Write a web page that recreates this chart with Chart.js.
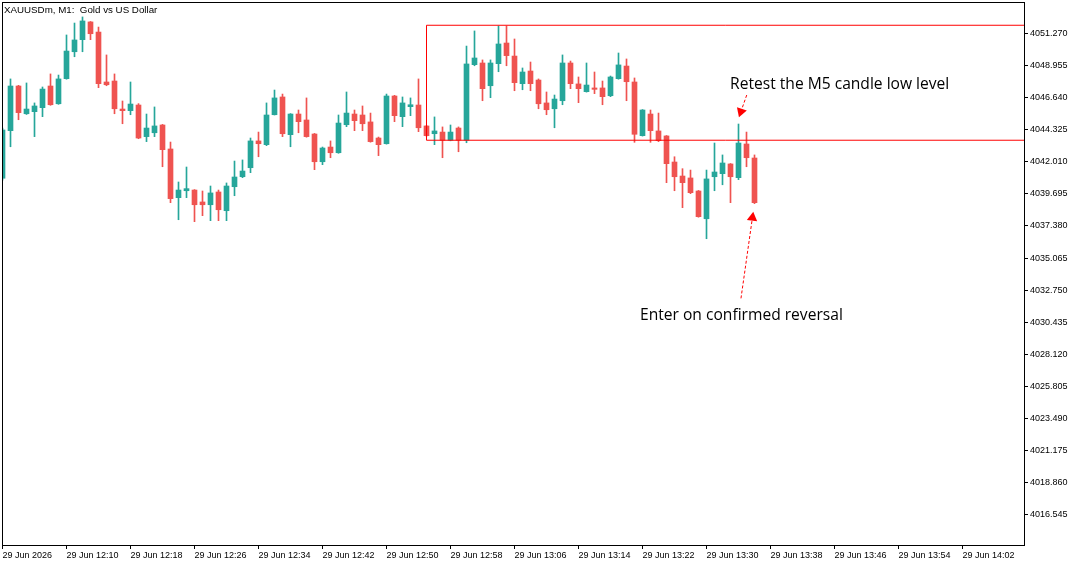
<!DOCTYPE html>
<html>
<head>
<meta charset="utf-8">
<script src="https://cdn.jsdelivr.net/npm/chart.js@4.4.1/dist/chart.umd.min.js"></script>
<style>
  html, body { margin: 0; padding: 0; background: #fff; }
  #wrap { width: 1082px; height: 566px; }
</style>
</head>
<body>
<div id="wrap"><canvas id="chart" width="1082" height="566"></canvas></div>
<script>
// XAUUSDm M1 candles, 12:02 .. 13:36 (one per minute)
const opens = [4040.82,4044.25,4047.47,4045.47,4045.62,4045.91,4047.47,4046.19,4048.00,4049.94,
  4050.81,4052.09,4051.36,4047.76,4047.83,4045.81,4045.69,4046.10,4043.82,4044.10,
  4044.66,4042.93,4039.42,4039.92,4039.97,4039.11,4038.91,4039.83,4038.48,4040.21,
  4040.93,4041.58,4043.51,4043.24,4045.40,4046.68,4043.96,4045.45,4045.02,4044.01,
  4042.01,4043.07,4042.66,4044.68,4045.45,4045.38,4044.88,4043.72,4043.31,4046.75,
  4045.26,4045.98,4046.10,4044.59,4044.03,4044.15,4043.56,4044.44,4043.56,4049.01,
  4049.13,4047.49,4049.08,4050.57,4049.63,4047.64,4048.55,4047.90,4046.25,4045.83,
  4046.41,4049.13,4047.62,4047.06,4047.33,4047.33,4046.77,4048.00,4048.91,4047.76,
  4043.89,4045.45,4044.23,4043.87,4041.99,4040.98,4040.84,4039.90,4037.90,4040.93,
  4041.15,4041.85,4040.86,4043.29,4042.28];
const highs = [4044.44,4047.98,4047.52,4047.69,4046.25,4047.40,4048.34,4048.26,4051.15,4052.01,
  4052.45,4052.12,4051.72,4049.71,4048.34,4046.39,4047.76,4046.20,4045.45,4045.96,
  4044.70,4043.43,4040.55,4041.63,4040.00,4039.90,4040.26,4039.97,4040.48,4042.06,
  4042.14,4043.72,4044.15,4046.25,4047.18,4046.89,4045.48,4045.74,4046.61,4044.05,
  4043.07,4043.51,4045.38,4047.04,4045.74,4046.03,4045.52,4043.79,4046.89,4046.80,
  4046.68,4046.61,4047.98,4044.62,4045.24,4044.52,4044.66,4044.52,4050.35,4051.44,
  4049.35,4049.35,4051.80,4051.80,4050.86,4048.77,4049.20,4047.98,4047.04,4046.82,
  4049.71,4049.27,4048.12,4049.13,4048.48,4047.83,4048.19,4049.85,4049.42,4048.05,
  4045.77,4045.74,4045.52,4043.90,4042.37,4041.51,4041.41,4039.94,4041.41,4043.36,
  4042.50,4041.88,4044.73,4044.15,4042.50];
const lows = [4040.69,4043.09,4045.04,4045.42,4043.82,4045.26,4046.08,4046.15,4047.96,4049.58,
  4049.94,4050.81,4047.35,4047.49,4045.47,4044.75,4045.40,4043.67,4043.46,4043.82,
  4041.65,4039.06,4037.83,4039.42,4037.69,4038.12,4037.76,4037.76,4037.76,4039.56,
  4040.86,4041.22,4042.37,4043.17,4045.38,4043.82,4043.09,4044.10,4043.78,4041.44,
  4041.80,4042.30,4042.62,4044.54,4044.25,4044.25,4043.42,4042.45,4043.28,4044.90,
  4044.54,4045.33,4044.18,4043.85,4043.24,4042.30,4043.52,4042.73,4043.38,4048.93,
  4046.41,4046.63,4048.50,4048.93,4047.13,4047.20,4047.13,4045.83,4045.40,4044.46,
  4046.12,4047.28,4046.27,4047.03,4046.92,4046.12,4046.70,4047.96,4046.41,4043.41,
  4043.86,4043.41,4043.46,4040.50,4039.92,4038.70,4039.71,4038.01,4036.46,4039.92,
  4040.35,4039.06,4040.72,4041.65,4038.99];
const closes = [4044.30,4047.47,4045.55,4045.81,4046.03,4047.25,4046.12,4047.98,4049.99,4050.79,
  4052.16,4051.24,4047.64,4047.56,4045.83,4045.69,4046.17,4043.72,4044.44,4044.59,
  4042.88,4039.35,4039.97,4040.07,4038.91,4038.91,4039.76,4038.55,4040.26,4040.91,
  4041.34,4043.51,4043.31,4045.38,4046.61,4044.03,4045.45,4044.90,4043.82,4042.01,
  4043.00,4042.66,4044.80,4045.52,4044.97,4044.75,4043.46,4043.24,4046.75,4045.33,
  4046.25,4046.12,4044.46,4043.89,4044.23,4043.56,4044.15,4043.56,4049.06,4049.49,
  4047.28,4049.13,4050.50,4049.66,4047.71,4048.48,4047.64,4046.19,4045.76,4046.53,
  4049.13,4047.64,4047.28,4047.54,4047.23,4046.70,4048.12,4048.99,4047.78,4043.99,
  4045.74,4044.25,4043.53,4041.87,4040.93,4040.50,4039.78,4038.05,4040.77,4041.27,
  4041.92,4040.93,4043.36,4042.30,4039.06];

// axis labels
const xTickLabels = ['29 Jun 2026','29 Jun 12:10','29 Jun 12:18','29 Jun 12:26','29 Jun 12:34',
  '29 Jun 12:42','29 Jun 12:50','29 Jun 12:58','29 Jun 13:06','29 Jun 13:14','29 Jun 13:22',
  '29 Jun 13:30','29 Jun 13:38','29 Jun 13:46','29 Jun 13:54','29 Jun 14:02'];
const yTicks = [4051.270,4048.955,4046.640,4044.325,4042.010,4039.695,4037.380,4035.065,
  4032.750,4030.435,4028.120,4025.805,4023.490,4021.175,4018.860,4016.545];
const chartTitle = 'XAUUSDm, M1:  Gold vs US Dollar';

// drawn objects (bar index, price)
const boxStart = 53, boxEnd = 140, boxTop = 4051.85, boxBottom = 4043.56;
const arrowFromX = [93.03, 92.31], arrowFromY = [4046.82, 4032.16];
const arrowHeadX = [92.30, 93.74], arrowHeadY = [4045.62, 4037.98];
const arrowAngle = [199, 8];
const noteTexts = ['Retest the M5 candle low level', 'Enter on confirmed reversal'];
const noteX = [90.94, 79.69], noteY = [4047.23, 4030.60];

const UP = '#26a69a', DOWN = '#ef5350', LINE = '#ff0000';

const candleColors = opens.map((o, i) => closes[i] >= o ? UP : DOWN);
const bodyData = opens.map((o, i) => ({x: i, y: [o, closes[i]]}));
const wickData = lows.map((l, i) => ({x: i, y: [l, highs[i]]}));

const annotations = {
  id: 'annotations',
  afterDatasetsDraw(chart) {
    const {ctx, chartArea: a, scales: {x, y}} = chart;
    ctx.save();
    ctx.strokeStyle = '#000';
    ctx.lineWidth = 1;
    ctx.strokeRect(a.left + 0.5, a.top + 0.5, a.right - a.left, a.bottom - a.top);
    ctx.fillStyle = '#000';
    ctx.textBaseline = 'alphabetic';
    ctx.font = '9.75px "Liberation Sans", Arial, sans-serif';
    ctx.fillText(chartTitle, a.left + 2, a.top + 10.5);
    ctx.font = '15.6px "Open Sans", sans-serif';
    noteTexts.forEach((t, i) => {
      ctx.fillText(t, x.getPixelForValue(noteX[i]), y.getPixelForValue(noteY[i]));
    });
    ctx.restore();
  }
};

const datasets = [
  {
    type: 'line',
    data: [{x: boxEnd, y: boxBottom}, {x: boxStart, y: boxBottom}, {x: boxStart, y: boxTop}, {x: boxEnd, y: boxTop}],
    borderColor: LINE, borderWidth: 1, pointRadius: 0, fill: false, tension: 0, clip: 0, order: 0
  }
];
arrowFromX.forEach((fx, i) => {
  datasets.push({
    type: 'line',
    data: [{x: fx, y: arrowFromY[i]}, {x: arrowHeadX[i], y: arrowHeadY[i]}],
    borderColor: LINE, borderWidth: 1, borderDash: [3, 2], pointRadius: 0, fill: false, clip: 0, order: 0
  });
  datasets.push({
    type: 'line',
    data: [{x: arrowHeadX[i], y: arrowHeadY[i]}],
    showLine: false, pointStyle: 'triangle', pointRotation: arrowAngle[i], pointRadius: 6,
    pointBackgroundColor: LINE, pointBorderWidth: 0, clip: 0, order: 0
  });
});
datasets.push({
  type: 'bar', data: bodyData, backgroundColor: candleColors, barThickness: 5,
  minBarLength: 1, grouped: false, borderWidth: 0, clip: 0, order: 1
});
datasets.push({
  type: 'bar', data: wickData, backgroundColor: candleColors, barThickness: 1,
  grouped: false, borderWidth: 0, clip: 0, order: 2
});

const tickFont = {family: '"Liberation Sans", Arial, sans-serif', size: 9};

new Chart(document.getElementById('chart'), {
  type: 'bar',
  data: {datasets},
  options: {
    responsive: false,
    devicePixelRatio: 1,
    animation: false,
    events: [],
    layout: {padding: {left: 2, top: 2, right: 0, bottom: 0}, autoPadding: false},
    plugins: {legend: {display: false}, tooltip: {enabled: false}, title: {display: false}},
    scales: {
      x: {
        type: 'linear',
        min: -0.0625,
        max: 127.6875,
        offset: false,
        border: {display: false},
        grid: {drawOnChartArea: false, drawTicks: true, tickLength: 4, color: '#000', offset: false},
        afterBuildTicks: s => { s.ticks = xTickLabels.map((l, i) => ({value: i * 8})); },
        afterFit: s => { s.height = 21; s.paddingLeft = 0; s.paddingRight = 0; },
        ticks: {
          autoSkip: false, maxRotation: 0, minRotation: 0, align: 'start', padding: 1,
          color: '#000', font: tickFont,
          callback: (v, i) => xTickLabels[i]
        }
      },
      y: {
        type: 'linear',
        position: 'right',
        min: 4014.378,
        max: 4053.527,
        border: {display: false},
        grid: {drawOnChartArea: false, drawTicks: true, tickLength: 4, color: '#000'},
        afterBuildTicks: s => { s.ticks = yTicks.map(v => ({value: v})); },
        afterFit: s => { s.width = 58; s.paddingTop = 0; s.paddingBottom = 0; },
        ticks: {
          autoSkip: false, padding: 2, color: '#000', font: tickFont,
          callback: v => v.toFixed(3)
        }
      }
    }
  },
  plugins: [annotations]
});
</script>
</body>
</html>
